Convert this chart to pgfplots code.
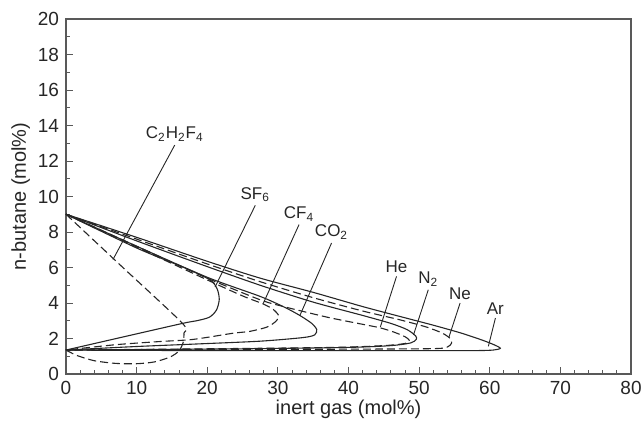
\documentclass[border=0pt]{standalone}
\usepackage{fontspec}
\setmainfont{Liberation Sans}
\usepackage{pgfplots}
\pgfplotsset{compat=1.18}
\definecolor{ink}{HTML}{262626}
\begin{document}
\begin{tikzpicture}
\useasboundingbox (-33pt,-25.5pt) rectangle (287.5pt,187pt);
\begin{axis}[
  at={(0,0)}, anchor=south west,
  scale only axis, width=282.5pt, height=177.5pt,
  xmin=0, xmax=80, ymin=0, ymax=20,
  xtick={0,10,...,80}, ytick={0,2,...,20},
  minor x tick num=4, minor y tick num=1,
  tick align=inside, tick pos=left,
  major tick length=3.5pt, minor tick length=2pt,
  axis line style={draw=black!65, line width=0.7pt},
  every tick/.style={black!65, line width=0.5pt},
  tick label style={font=\fontsize{9.5}{11}\selectfont, text=ink},
  /pgf/number format/assume math mode=true,
  xlabel={inert gas (mol\%)}, ylabel={n-butane (mol\%)},
  label style={font=\fontsize{10}{12}\selectfont, text=ink},
  xlabel shift=-4pt, ylabel shift=-3pt,
  clip=false,
]
\pgfplotsset{every axis plot/.append style={draw=ink, line width=0.55pt, smooth, tension=0.45, mark=none}}
% Ar (solid)
\addplot[solid] coordinates {(0,9) (10,7.7) (20,6.35) (27.5,5.4) (35,4.6) (42,3.8) (47.3,3.24) (52,2.75) (56,2.3) (59,1.9) (60.6,1.65) (61.5,1.45) (60.5,1.35) (58,1.32) (50,1.32) (30,1.32) (10,1.33) (0,1.35)};
% Ne (dashed)
\addplot[dash pattern=on 4pt off 2pt] coordinates {(0,9) (10,7.6) (20,6.2) (27.5,5.2) (35,4.3) (42,3.55) (47.3,3.05) (51,2.65) (53.3,2.3) (54.4,2.0) (54.6,1.75) (54,1.52) (52,1.43) (40,1.4) (20,1.38) (0,1.35)};
% N2 (solid)
\addplot[solid] coordinates {(0,9) (10,7.5) (20,6.05) (27.5,5.0) (35,4.05) (42,3.3) (46,2.85) (48.3,2.5) (49.5,2.15) (49.6,1.95) (48.8,1.75) (46,1.6) (40,1.5) (25,1.42) (0,1.35)};
% He (dashed)
\addplot[dash pattern=on 4pt off 2pt] coordinates {(0,9) (10,7.2) (20,5.4) (27.5,4.18) (30.8,3.8) (37,3.2) (42,2.8) (44.5,2.6) (46.5,2.35) (48,2.1) (48.6,1.9) (48,1.72) (45,1.6) (38,1.5) (20,1.42) (0,1.35)};
% CO2 (solid)
\addplot[solid] coordinates {(0,9) (10,7.2) (20,5.45) (27.5,4.37) (31,3.75) (33.1,3.3) (34.8,2.85) (35.5,2.5) (35.2,2.2) (33.5,2.05) (27.5,1.85) (19,1.7) (10,1.55) (0,1.35)};
% CF4 (dashed)
\addplot[dash pattern=on 4pt off 2pt] coordinates {(0,9) (10,7.15) (20,5.3) (25,4.4) (27.9,3.95) (29.3,3.65) (30.1,3.3) (29.8,3.0) (28.5,2.65) (26,2.4) (23.7,2.3) (18,1.95) (13.3,1.83) (7,1.65) (0,1.35)};
% SF6 (solid)
\addplot[solid] coordinates {(0,9) (10,7.1) (17,5.95) (20.4,5.3) (21.4,4.8) (21.7,4.2) (21.3,3.6) (20.3,3.2) (18.5,3.0) (16.6,2.86) (8,2.08) (0,1.35)};
% C2H2F4 (dashed)
\addplot[dash pattern=on 4pt off 2pt] coordinates {(0,9) (8,6.02) (16.5,2.85) (16.7,2.3) (16.6,1.8) (16.0,1.3) (14.7,0.95) (12.5,0.68) (10,0.58) (7,0.6) (4,0.75) (1.5,1.05) (0,1.35)};
% leaders and labels
\begin{scope}[every node/.style={font=\fontsize{8.5}{10}\selectfont, text=ink, inner sep=1.5pt}]
\draw[ink, line width=0.45pt] (axis cs:6.65,6.45) -- (axis cs:15.4,12.9) node[above] {C\textsubscript{2}H\textsubscript{2}F\textsubscript{4}};
\draw[ink, line width=0.45pt] (axis cs:21.1,4.9) -- (axis cs:26.8,9.5) node[above] {SF\textsubscript{6}};
\draw[ink, line width=0.45pt] (axis cs:27.9,3.95) -- (axis cs:33.0,8.42) node[above] {CF\textsubscript{4}};
\draw[ink, line width=0.45pt] (axis cs:33.1,3.28) -- (axis cs:37.6,7.38) node[above] {CO\textsubscript{2}};
\draw[ink, line width=0.45pt] (axis cs:44.5,2.64) -- (axis cs:46.8,5.5) node[above] {He};
\draw[ink, line width=0.45pt] (axis cs:49.2,2.2) -- (axis cs:51.3,4.75) node[above] {N\textsubscript{2}};
\draw[ink, line width=0.45pt] (axis cs:54.2,2.05) -- (axis cs:55.8,4.0) node[above] {Ne};
\draw[ink, line width=0.45pt] (axis cs:59.8,1.56) -- (axis cs:60.8,3.15) node[above] {Ar};
\end{scope}
\end{axis}
\end{tikzpicture}
\end{document}
